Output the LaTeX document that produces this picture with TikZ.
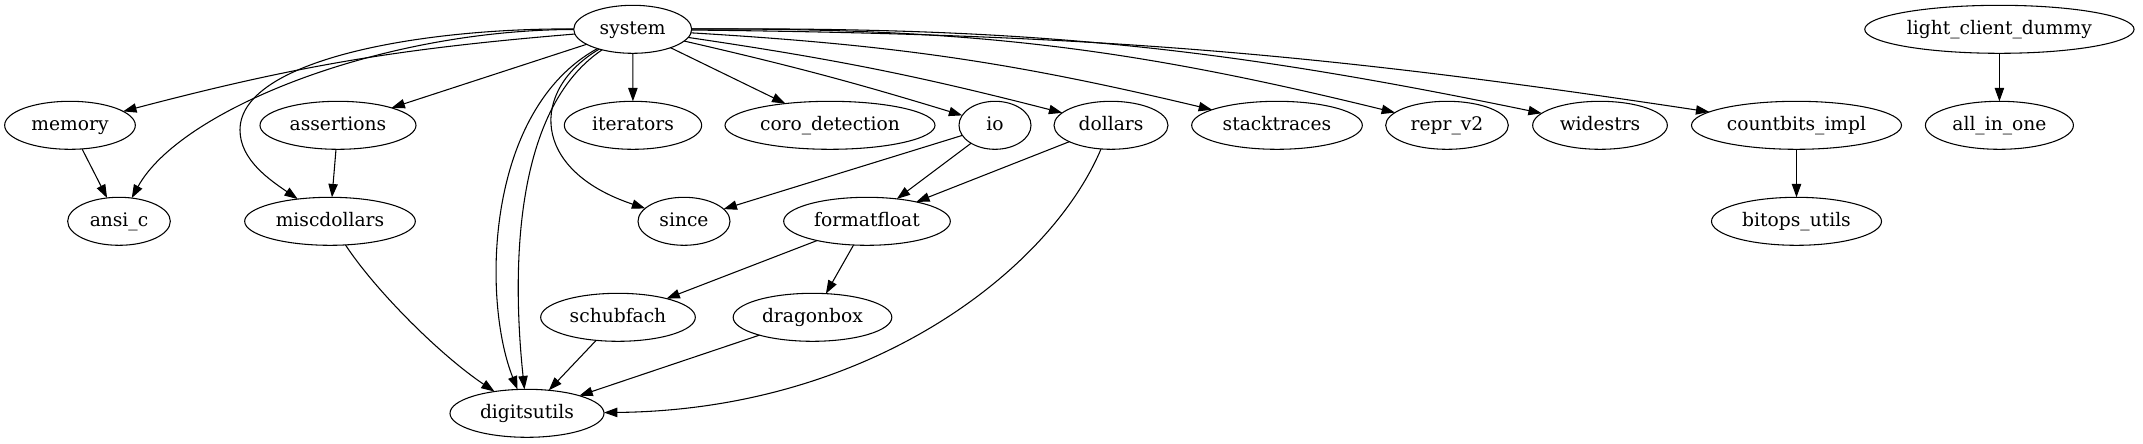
\documentclass[tikz,border=0pt]{standalone}
\usepackage{fontspec}
\setmainfont{DejaVu Serif}
\usetikzlibrary{arrows.meta,shapes.geometric}
\begin{document}
\begin{tikzpicture}[x=0.75pt,y=-0.75pt,
  nd/.style={draw, ellipse, line width=0.8pt, inner sep=0pt, outer sep=0pt,
    minimum height=36pt, font=\fontsize{14pt}{16pt}\selectfont,
    text height=10.5pt, text depth=3pt},
  e/.style={draw, line width=0.8pt, -{Triangle[length=10pt,width=7pt]}}]
\useasboundingbox (0,0) rectangle (2143,443);
% rank 0
\node[nd, minimum width=88.5pt] (system) at (632.7,29.3) {system};
\node[nd, minimum width=202pt] (lcd) at (1999.4,29.3) {light\_client\_dummy};
% rank 1
\node[nd, minimum width=98pt] (memory) at (70,125.3) {memory};
\node[nd, minimum width=117pt] (assertions) at (338,125.3) {assertions};
\node[nd, minimum width=103pt] (iterators) at (633,125.3) {iterators};
\node[nd, minimum width=157.5pt] (coro) at (830,125.3) {coro\_detection};
\node[nd, minimum width=54pt] (io) at (995,125.3) {io};
\node[nd, minimum width=85.5pt] (dollars) at (1111,125.3) {dollars};
\node[nd, minimum width=128pt] (stacktraces) at (1277,125.3) {stacktraces};
\node[nd, minimum width=92pt] (repr) at (1447,125.3) {repr\_v2};
\node[nd, minimum width=101pt] (widestrs) at (1600,125.3) {widestrs};
\node[nd, minimum width=157.5pt] (countbits) at (1796.5,125.3) {countbits\_impl};
\node[nd, minimum width=111pt] (allinone) at (1999.4,125.3) {all\_in\_one};
% rank 2
\node[nd, minimum width=77pt] (ansic) at (119,221.3) {ansi\_c};
\node[nd, minimum width=128pt] (miscdollars) at (330,221.3) {miscdollars};
\node[nd, minimum width=69pt] (since) at (684,221.3) {since};
\node[nd, minimum width=125pt] (formatfloat) at (867,221.3) {formatfloat};
\node[nd, minimum width=127.5pt] (bitops) at (1796.5,221.3) {bitops\_utils};
% rank 3
\node[nd, minimum width=116pt] (schubfach) at (618,317.3) {schubfach};
\node[nd, minimum width=119pt] (dragonbox) at (812.5,317.3) {dragonbox};
% rank 4
\node[nd, minimum width=115.5pt] (digitsutils) at (527,413.3) {digitsutils};

% edges from system
\draw[e] (system) to[bend right=5] (memory);
\draw[e] (system) .. controls (380,30) and (180,110) .. (ansic);
\draw[e] (system) .. controls (420,28) and (240,60) .. (240,130)
                  .. controls (240,160) and (270,180) .. (miscdollars);
\draw[e] (system) -- (assertions);
\draw[e] (system) .. controls (485,110) and (482,300) .. (digitsutils);
\draw[e] (system) .. controls (505,115) and (515,300) .. (digitsutils);
\draw[e] (system) .. controls (530,90) and (530,170) .. (since);
\draw[e] (system) -- (iterators);
\draw[e] (system) -- (coro);
\draw[e] (system) to[bend left=2] (io);
\draw[e] (system) to[bend left=3] (dollars);
\draw[e] (system) to[bend left=5] (stacktraces);
\draw[e] (system) to[bend left=7] (repr);
\draw[e] (system) to[bend left=6] (widestrs);
\draw[e] (system) to[bend left=4] (countbits);
% other edges
\draw[e] (memory) -- (ansic);
\draw[e] (assertions) -- (miscdollars);
\draw[e] (miscdollars) .. controls (375,290) and (440,355) .. (digitsutils);
\draw[e] (io) -- (since);
\draw[e] (io) -- (formatfloat);
\draw[e] (dollars) -- (formatfloat);
\draw[e] (dollars) .. controls (1050,270) and (870,410) .. (digitsutils);
\draw[e] (formatfloat) -- (schubfach);
\draw[e] (formatfloat) -- (dragonbox);
\draw[e] (schubfach) -- (digitsutils);
\draw[e] (dragonbox) -- (digitsutils);
\draw[e] (countbits) -- (bitops);
\draw[e] (lcd) -- (allinone);
\end{tikzpicture}
\end{document}
